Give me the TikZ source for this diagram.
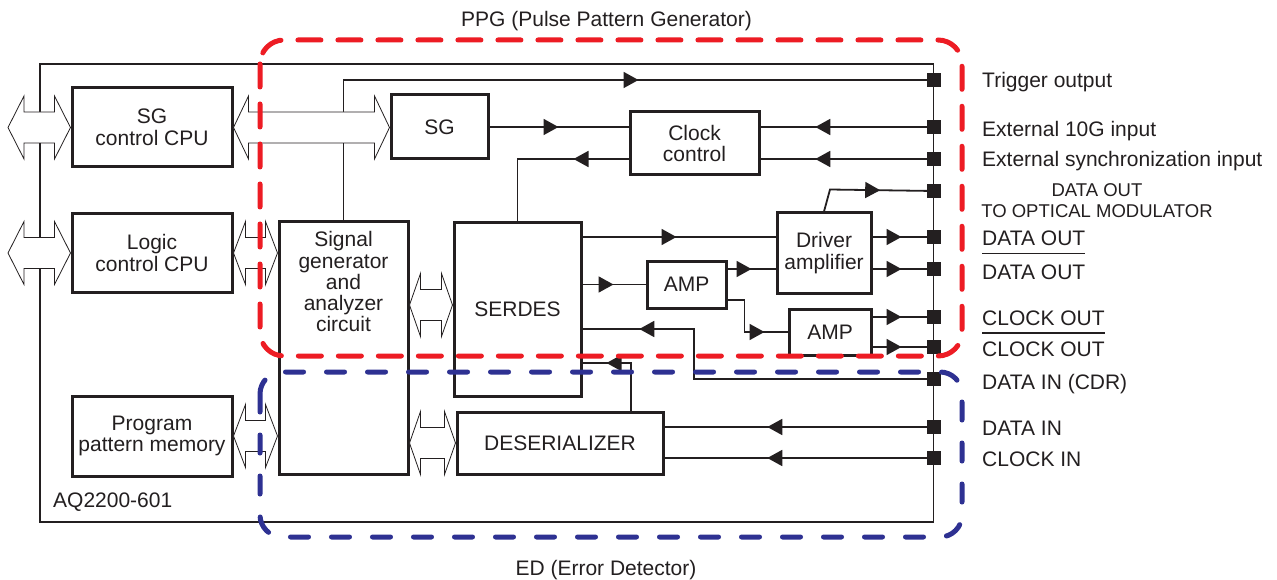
\documentclass[tikz,border=0pt]{standalone}
\usepackage{fontspec}
\setmainfont{Liberation Sans}
\usetikzlibrary{arrows.meta,calc,decorations.markings}
\definecolor{ink}{HTML}{231F20}
\definecolor{ppgred}{HTML}{ED1C24}
\definecolor{edblue}{HTML}{2E3192}
\tikzset{
  >={Triangle[length=15pt,width=16pt]},
  blk/.style={draw=ink, line width=3pt, text=ink, align=center, inner sep=0pt, font=\fontsize{21}{21.5}\selectfont},
  wire/.style={draw=ink, color=ink, line width=1.8pt},
  am/.style={postaction={decorate},decoration={markings,mark=at position #1 with {\arrow{>}}}},
  port/.style={fill=ink, minimum width=14pt, minimum height=14pt, inner sep=0pt},
  bus/.style={draw=ink, line width=0.8pt, fill=white, line join=miter},
  lbl/.style={text=ink, inner sep=0pt, font=\fontsize{21}{21.25}\selectfont},
  ppg/.style={draw=ppgred, line width=5pt, line cap=round, dash pattern=on 23pt off 17pt, rounded corners=24pt},
  edreg/.style={draw=edblue, line width=5pt, line cap=round, dash pattern=on 18pt off 23pt, rounded corners=22pt},
}
\newcommand\busarrow[3]{%
  \draw[bus] let \p1=(#1), \p2=(#2) in
    (\x1,\y1) -- (\x1+#3pt,\y1+31.5pt) -- (\x1+#3pt,\y1+15.5pt) -- (\x2-#3pt,\y1+15.5pt)
    -- (\x2-#3pt,\y1+31.5pt) -- (\x2,\y1) -- (\x2-#3pt,\y1-31.5pt) -- (\x2-#3pt,\y1-15.5pt)
    -- (\x1+#3pt,\y1-15.5pt) -- (\x1+#3pt,\y1-31.5pt) -- cycle;}
\begin{document}
\begin{tikzpicture}[x=1pt,y=-1pt]
\useasboundingbox (0,0) rectangle (1277,580);
\fill[white] (0,0) rectangle (1277,580);

% outer instrument box
\node[draw=ink, line width=1.5pt, minimum width=893.5pt, minimum height=458pt, inner sep=0pt] (outer) at (486.75,293) {};

% blocks
\node[blk, minimum width=160pt, minimum height=79pt] (sgcpu) at (152,127.5) {SG\\control CPU};
\node[blk, minimum width=160pt, minimum height=78pt] (logcpu) at (152,253) {Logic\\control CPU};
\node[blk, minimum width=160pt, minimum height=80pt] (progmem) at (152,436) {Program\\pattern memory};
\node[blk, minimum width=97pt, minimum height=64pt] (sg) at (439.5,127) {SG};
\node[blk, minimum width=129pt, minimum height=63pt] (clk) at (694.5,143.5) {Clock\\control};
\node[blk, minimum width=129pt, minimum height=252pt] (siggen) at (343.5,348) {};
\node[lbl, align=center, anchor=north] (siggentxt) at ([yshift=-11pt]siggen.north) {Signal\\generator\\and\\analyzer\\circuit};
\node[blk, minimum width=127pt, minimum height=173pt] (serdes) at (517.5,309.5) {SERDES};
\node[blk, minimum width=206pt, minimum height=62pt] (deser) at (560,443) {DESERIALIZER};
\node[blk, minimum width=94pt, minimum height=80pt] (drv) at (824,253) {Driver\\amplifier};
\node[blk, minimum width=79pt, minimum height=47pt] (amp1) at (686.5,284.5) {AMP};
\node[blk, minimum width=82pt, minimum height=46pt] (amp2) at (830,332) {AMP};

% ports
\node[port] (ptrig) at (934,80) {};
\node[port] (p10g) at (934,127) {};
\node[port] (psync) at (934,159) {};
\node[port] (pdopt) at (934,191) {};
\node[port] (pdout) at (934,237) {};
\node[port] (pdoutb) at (934,269) {};
\node[port] (pclk) at (934,317) {};
\node[port] (pclkb) at (934,347) {};
\node[port] (pcdr) at (934,379) {};
\node[port] (pdin) at (934,427) {};
\node[port] (pclkin) at (934,458) {};

% wires
\draw[wire, am=435.5pt] (siggen.north) |- (ptrig);
\draw[wire, am=69pt] (sg.east) -- (sg.east -| clk.west);
\draw[wire, am=111.5pt] (p10g) -- (p10g -| clk.east);
\draw[wire, am=111.5pt] (psync) -- (psync -| clk.east);
\draw[wire, am=55pt] (clk.west |- psync) -| (serdes.north);
\draw[wire, am=94pt] (serdes.east |- pdout) -- (drv.west |- pdout);
\draw[wire, am=31pt] (serdes.east |- amp1.west) -- (amp1.west);
\draw[wire, am=24pt] (amp1.east |- pdoutb) -- (drv.west |- pdoutb);
\draw[wire, am=69pt] ([yshift=-15.5pt]amp1.east) -- ++(17,0) |- (amp2.west);
\draw[wire, am=73pt] (drv.north) -- ++(6,-22) -- (pdopt);
\draw[wire, am=29pt] (drv.east |- pdout) -- (pdout);
\draw[wire, am=29pt] (drv.east |- pdoutb) -- (pdoutb);
\draw[wire, am=29pt] (amp2.east |- pclk) -- (pclk);
\draw[wire, am=29pt] (amp2.east |- pclkb) -- (pclkb);
\coordinate (cdrk) at (694,329);
\draw[wire, am=337.5pt] (pcdr) -| (cdrk) -- (serdes.east |- cdrk);
\coordinate (dsk) at (631,363);
\draw[wire, am=72pt] (deser.north -| dsk) -- (dsk) -- (serdes.east |- dsk);
\draw[wire, am=159.5pt] (pdin) -- (pdin -| deser.east);
\draw[wire, am=159.5pt] (pclkin) -- (pclkin -| deser.east);

% bus arrows
\coordinate (busl1) at (8,127.5);
\coordinate (busl2) at (8,253);
\busarrow{busl1}{sgcpu.west}{16}
\busarrow{busl2}{logcpu.west}{16}
\busarrow{sgcpu.east}{sg.west}{15}
\busarrow{logcpu.east}{siggen.west}{12}
\busarrow{progmem.east}{siggen.west}{12}
\busarrow{$(siggen.east |- serdes.west)+(0,-4.5)$}{serdes.west}{11}
\busarrow{siggen.east |- deser.west}{deser.west}{11}

% right-hand labels
\node[lbl, anchor=base west] (ltrig) at (982,88) {Trigger output};
\node[lbl, anchor=base west] (l10g) at (982,137) {External 10G input};
\node[lbl, anchor=base west] (lsync) at (982,167) {External synchronization input};
\node[lbl, align=center, anchor=north, font=\fontsize{18.5}{21}\selectfont] (ldopt) at (1097,183) {DATA OUT\\TO OPTICAL MODULATOR};
\node[lbl, anchor=base west] (ldout) at (982,246) {DATA OUT};
\node[lbl, anchor=base west] (ldoutb) at (982,279) {DATA OUT};
\draw[ink, line width=1.5pt] ([yshift=10.5pt]ldoutb.north west) -- ([yshift=10.5pt]ldoutb.north east);
\node[lbl, anchor=base west] (lclk) at (982,325) {CLOCK OUT};
\node[lbl, anchor=base west] (lclkb) at (982,356) {CLOCK OUT};
\draw[ink, line width=1.5pt] ([yshift=8pt]lclkb.north west) -- ([yshift=8pt]lclkb.north east);
\node[lbl, anchor=base west] (lcdr) at (982,389) {DATA IN (CDR)};
\node[lbl, anchor=base west] (ldin) at (982,435) {DATA IN};
\node[lbl, anchor=base west] (lclkin) at (982,466) {CLOCK IN};

\node[lbl, anchor=base west] (model) at (53,507) {AQ2200-601};

% dashed regions
\draw[ppg] (260,40) rectangle (962,356);
\draw[edreg] (260,372) rectangle (962,537);
\node[lbl, anchor=base] (ppglbl) at (606.5,27) {PPG (Pulse Pattern Generator)};
\node[lbl, anchor=base] (edlbl) at (606,575) {ED (Error Detector)};
\end{tikzpicture}
\end{document}
